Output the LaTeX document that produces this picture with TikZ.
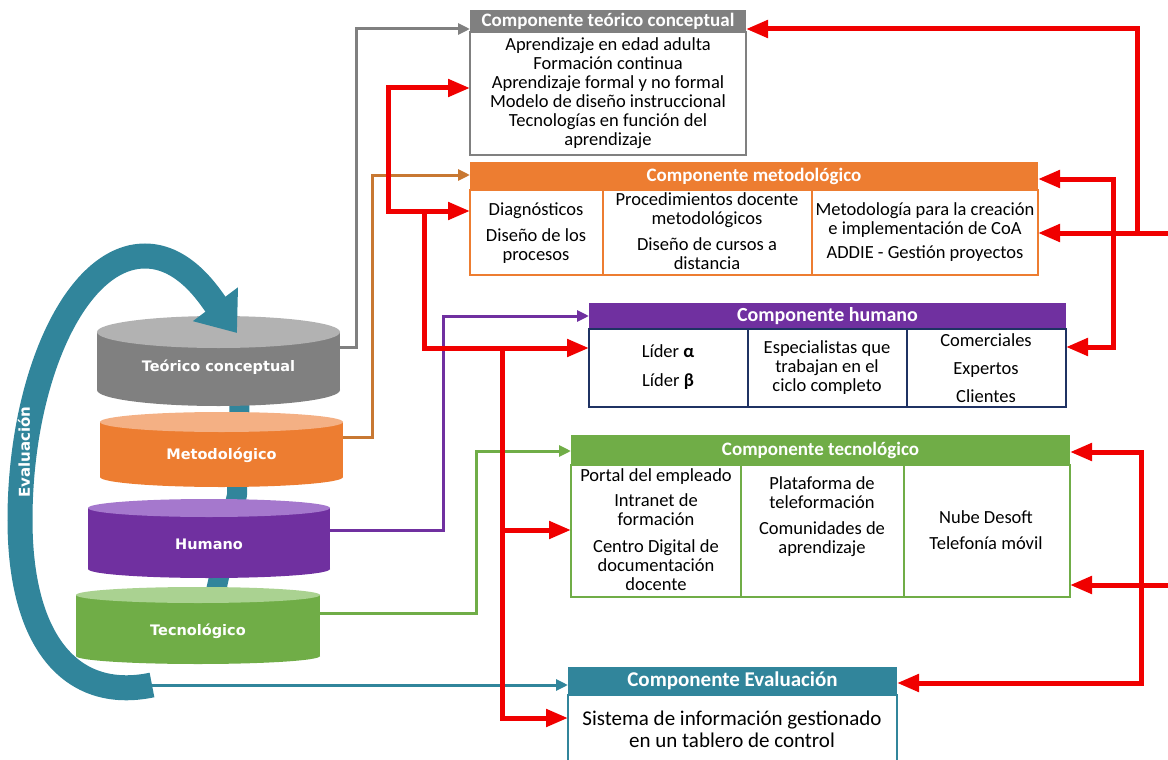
\documentclass[tikz,border=0pt]{standalone}
\usepackage{fontspec}
\setmainfont{Carlito}
\newfontfamily\cylfont{DejaVu Sans}
\usepackage{tikz}
\usetikzlibrary{arrows.meta}
\usetikzlibrary{positioning}

\definecolor{tgray}{RGB}{128,128,128}
\definecolor{tgraytop}{RGB}{178,178,178}
\definecolor{torange}{RGB}{237,125,49}
\definecolor{torangetop}{RGB}{244,176,132}
\definecolor{toline}{RGB}{200,120,50}
\definecolor{tpurple}{RGB}{112,48,160}
\definecolor{tpurpletop}{RGB}{165,120,205}
\definecolor{tnavy}{RGB}{31,50,99}
\definecolor{tgreen}{RGB}{112,173,71}
\definecolor{tgreentop}{RGB}{170,210,145}
\definecolor{tteal}{RGB}{49,133,155}
\definecolor{tred}{RGB}{240,0,0}

\begin{document}
\begin{tikzpicture}[x=1pt, y=-1pt]
      \tikzstyle{head} = [rectangle, inner sep=0pt, outer sep=0pt, text=white, font=\bfseries\fontsize{19}{20}\selectfont]
      \tikzstyle{body} = [rectangle, fill=white, inner sep=0pt, outer sep=0pt, line width=2.5pt,
         align=center, font=\fontsize{18.5}{19}\selectfont]
      \tikzstyle{cell} = [inner sep=0pt, align=center, font=\fontsize{18.5}{19}\selectfont]
      \tikzstyle{cyltext} = [text=white, font=\cylfont\bfseries\fontsize{14.5}{16}\selectfont]
      \tikzstyle{thinline} = [line width=3pt, -{Triangle[length=12pt,width=11pt]}]
      \tikzstyle{redline} = [draw=tred, line width=5pt, -{Triangle[length=22pt,width=17pt]}]
      \useasboundingbox (0,0) rectangle (1168,760);
      \clip (0,0) rectangle (1168,760);

      %spine and cylinders
      \draw[tteal, line width=20pt] (240,385) -- (237,495) -- (214,600);
      \foreach \xa/\xb/\yt/\yb/\ry/\cb/\ct/\cn/\lab in {
         97/340/332/390/16/tgray/tgraytop/ctc/Teórico conceptual,
         100/343/422/477/10/torange/torangetop/cmet/Metodológico,
         88/330/508/569/9/tpurple/tpurpletop/chum/Humano,
         76/320/595/656/8/tgreen/tgreentop/ctec/Tecnológico}
      {
         \fill[\cb] ({(\xa+\xb)/2},\yb) ellipse [x radius={(\xb-\xa)/2}, y radius=\ry];
         \fill[\cb] (\xa,\yt) rectangle (\xb,\yb);
         \fill[\ct] ({(\xa+\xb)/2},\yt) ellipse [x radius={(\xb-\xa)/2}, y radius=\ry];
         \node[cyltext] (\cn) at ({(\xa+\xb)/2},{(\yt+\yb)/2+6}) {\lab};
      }

      %evaluation loop
      \coordinate (evend) at (152,685);
      \draw[tteal, line width=25pt, -{Triangle[length=36pt,width=54pt]}] (evend)
         .. controls (70,702) and (20,640) .. (20,520)
         .. controls (20,380) and (75,256) .. (145,256)
         .. controls (185,256) and (210,297) .. (237,333);
      \node[rotate=90, text=white, font=\cylfont\bfseries\fontsize{15}{16}\selectfont] (evlab) at (24,452) {Evaluación};

      %nodes
      \node[head, fill=tgray, minimum width=276pt, minimum height=22pt] (tch) at (608,21) {Componente teórico conceptual};
      \node[body, draw=tgray, minimum width=276pt, minimum height=123pt, below=0pt of tch] (tcb)
         {Aprendizaje en edad adulta\\Formación continua\\Aprendizaje formal y no formal\\Modelo de diseño instruccional\\Tecnologías en función del\\aprendizaje};

      \node[head, fill=torange, minimum width=568pt, minimum height=28pt] (mh) at (754,176) {Componente metodológico};
      \node[body, draw=torange, minimum width=568pt, minimum height=85pt, below=0pt of mh] (mb) {};
      \draw[torange, line width=2.5pt] (603,190) -- (603,275) (812,190) -- (812,275);
      \node[cell] (m1) at (536,233) {Diagnósticos\\[7pt]Diseño de los\\procesos};
      \node[cell] (m2) at (707,231) {Procedimientos docente\\metodológicos\\[7pt]Diseño de cursos a\\distancia};
      \node[cell] (m3) at (925,232) {Metodología para la creación\\e implementación de CoA\\[5pt]ADDIE - Gestión proyectos};

      \node[head, fill=tpurple, minimum width=477pt, minimum height=26pt, font=\bfseries\fontsize{20}{21}\selectfont] (hh) at (827.5,316) {Componente humano};
      \node[body, draw=tnavy, minimum width=477pt, minimum height=78pt, below=0pt of hh] (hb) {};
      \draw[tnavy, line width=2.5pt] (748,329) -- (748,407) (907,329) -- (907,407);
      \node[cell] (h1) at (668,367) {Líder {\bfseries α}\\[10pt]Líder {\bfseries β}};
      \node[cell] (h2) at (827,368) {Especialistas que\\trabajan en el\\ciclo completo};
      \node[cell] (h3) at (986,368) {Comerciales\\[9pt]Expertos\\[9pt]Clientes};

      \node[head, fill=tgreen, minimum width=499pt, minimum height=30pt] (th) at (820.5,450) {Componente tecnológico};
      \node[body, draw=tgreen, minimum width=499pt, minimum height=132pt, below=0pt of th] (tb) {};
      \draw[tgreen, line width=2.5pt] (741,465) -- (741,597) (904,465) -- (904,597);
      \node[cell] (t1) at (656,530) {Portal del empleado\\[6pt]Intranet de\\formación\\[8pt]Centro Digital de\\documentación\\docente};
      \node[cell] (t2) at (822,517) {Plataforma de\\teleformación\\[7pt]Comunidades de\\aprendizaje};
      \node[cell] (t3) at (986,530) {Nube Desoft\\[7pt]Telefonía móvil};

      \node[head, fill=tteal, minimum width=329pt, minimum height=28pt, font=\bfseries\fontsize{21}{22}\selectfont] (eh) at (732.5,681) {Componente Evaluación};
      \node[body, draw=tteal, minimum width=329pt, minimum height=80pt, below=0pt of eh] (eb) {};
      \node[cell, font=\fontsize{21}{22}\selectfont] (e1) at (732,729) {Sistema de información gestionado\\en un tablero de control};

      %lines
      \coordinate (gs) at (340,347);  \coordinate (gb) at (356,29);
      \coordinate (os) at (343,437);  \coordinate (ob) at (372,175);
      \coordinate (ps) at (330,530);  \coordinate (pb) at (443,316);
      \coordinate (ns) at (320,613);  \coordinate (nb) at (476,451);
      \draw[thinline, tgray] (gs) -| (gb) -- (gb -| tch.west);
      \draw[thinline, toline] (os) -| (ob) -- (ob -| mh.west);
      \draw[thinline, tpurple] (ps) -| (pb) -- (pb -| hh.west);
      \draw[thinline, tgreen] (ns) -| (nb) -- (nb -| th.west);
      \draw[thinline, tteal] (evend) -- (evend -| eh.west);

      \coordinate (rl1) at (388,88);  \coordinate (rl2) at (388,211);
      \coordinate (rl3) at (424,211); \coordinate (rl4) at (424,348);
      \coordinate (rl5) at (502,348); \coordinate (rl6) at (502,530);
      \coordinate (rl7) at (502,718);
      \draw[redline] (rl2) -- (rl1) -- (rl1 -| tcb.west);
      \draw[redline] (rl1) -- (rl2) -- (rl2 -| mb.west);
      \draw[redline] (rl3) -- (rl4) -- (rl4 -| hb.west);
      \draw[redline] (rl5) -- (rl7) -- (rl7 -| eb.west);
      \draw[redline] (rl6) -- (rl6 -| tb.west);

      \coordinate (rr1) at (1168,233); \coordinate (rr2) at (1137,233);
      \coordinate (rr3) at (1137,29);  \coordinate (rr4) at (1113,179);
      \coordinate (rr5) at (1113,347); \coordinate (rr6) at (1168,585);
      \coordinate (rr7) at (1141,452); \coordinate (rr8) at (1141,683);
      \draw[redline] (rr1) -- (rr1 -| mb.east);
      \draw[redline] (rr2) -- (rr3) -- (rr3 -| tch.east);
      \draw[redline] (rr5) -- (rr4) -- (rr4 -| mh.east);
      \draw[redline] (rr4) -- (rr5) -- (rr5 -| hb.east);
      \draw[redline] (rr6) -- (rr6 -| tb.east);
      \draw[redline] (rr8) -- (rr7) -- (rr7 -| th.east);
      \draw[redline] (rr7) -- (rr8) -- (rr8 -| eh.east);
\end{tikzpicture}
\end{document}
